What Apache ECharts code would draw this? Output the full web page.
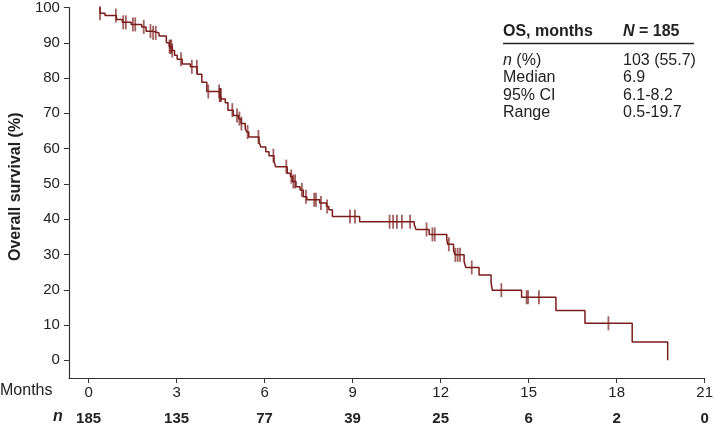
<!DOCTYPE html>
<html>
<head>
<meta charset="utf-8">
<script src="https://cdn.jsdelivr.net/npm/echarts@6/dist/echarts.min.js"></script>
<style>
html,body{margin:0;padding:0;background:#fff;}
#chart{width:716px;height:430px;}
</style>
</head>
<body>
<div id="chart"></div>
<script>
// ---- Data ----
const startTime = 0.39;
const eventTimes = [0.39, 0.56, 0.95, 1.15, 1.45, 1.81, 1.96, 2.18, 2.40, 2.65, 2.75, 2.85, 2.93, 3.02, 3.19, 3.47, 3.70, 3.86, 4.03, 4.47, 4.53, 4.66, 4.75, 4.93, 5.11, 5.20, 5.34, 5.39, 5.46, 5.81, 5.87, 6.04, 6.15, 6.32, 6.37, 6.77, 6.88, 6.95, 7.07, 7.21, 7.32, 7.44, 7.88, 8.11, 8.19, 8.31, 9.24, 11.10, 11.16, 11.61, 12.21, 12.24, 12.44, 12.49, 12.80, 12.86, 13.31, 13.72, 13.76, 14.76, 15.93, 16.92, 18.53, 19.74];
const eventSurv  = [98.4, 97.7, 96.6, 95.8, 95.2, 94.5, 93.3, 92.8, 91.9, 90.0, 88.9, 87.8, 86.5, 85.3, 84.0, 83.2, 81.1, 78.8, 76.2, 75.2, 74.1, 73.0, 70.9, 69.4, 68.5, 67.1, 65.6, 64.7, 63.3, 61.9, 60.5, 59.1, 58.0, 56.6, 54.9, 53.0, 52.1, 50.7, 49.2, 48.3, 46.4, 45.5, 44.6, 43.6, 42.7, 40.8, 39.3, 38.5, 37.1, 35.7, 34.3, 32.9, 31.2, 29.9, 28.0, 26.3, 24.2, 22.1, 19.9, 17.9, 14.1, 10.5, 5.2, 0];
const censorTimes = [0.39, 0.93, 1.18, 1.27, 1.51, 1.59, 1.88, 2.11, 2.20, 2.29, 2.76, 2.79, 2.82, 2.85, 3.15, 3.52, 3.69, 4.08, 4.45, 4.47, 4.49, 4.51, 4.90, 5.06, 5.14, 5.21, 5.42, 5.79, 6.30, 6.74, 6.91, 6.98, 7.04, 7.27, 7.41, 7.69, 7.75, 7.92, 8.13, 8.91, 9.08, 10.26, 10.38, 10.51, 10.68, 10.96, 11.52, 11.72, 11.80, 12.28, 12.50, 12.58, 12.66, 13.06, 14.07, 14.93, 14.98, 15.35, 17.72];
const xTicks = [0, 3, 6, 9, 12, 15, 18, 21];
const yTicks = [0, 10, 20, 30, 40, 50, 60, 70, 80, 90, 100];
const atRiskTimes = [0, 3, 6, 9, 12, 15, 18, 21];
const atRisk = [185, 135, 77, 39, 25, 6, 2, 0];
const tableRows = [["{i|n} (%)", "103 (55.7)"], ["Median", "6.9"], ["95% CI", "6.1-8.2"], ["Range", "0.5-19.7"]];

// ---- Build series data ----
const curve = [[startTime, 100]];
eventTimes.forEach((t, i) => curve.push([t, eventSurv[i]]));
function survAt(t) {
  let s = 100;
  for (let i = 0; i < eventTimes.length; i++) if (eventTimes[i] <= t) s = eventSurv[i];
  return s;
}
const censors = censorTimes.map(t => [t, survAt(t)]);

const FONT = '"Liberation Sans", Arial, Helvetica, sans-serif';
const RED = '#7b1c1c';

const graphics = [
  {type: 'text', left: 0, top: 383, style: {text: 'Months', font: '16px ' + FONT, fill: '#222'}},
  {type: 'text', left: 53, top: 409, style: {text: 'n', font: 'italic bold 16px ' + FONT, fill: '#222'}},
  {type: 'text', left: 503, top: 23.5, style: {text: 'OS, months', font: 'bold 16px ' + FONT, fill: '#222'}},
  {type: 'text', left: 623, top: 23.5, style: {text: '{i|N} = 185', rich: {i: {font: 'italic bold 16px ' + FONT, fill: '#222'}}, font: 'bold 16px ' + FONT, fill: '#222'}},
  {type: 'line', shape: {x1: 503, y1: 43.5, x2: 694, y2: 43.5}, style: {stroke: '#222', lineWidth: 1.5}}
];
tableRows.forEach((r, i) => {
  const y = 52.5 + i * 17.5;
  graphics.push({type: 'text', left: 503, top: y, style: {text: r[0], rich: {i: {font: 'italic 16px ' + FONT, fill: '#222'}}, font: '16px ' + FONT, fill: '#222'}});
  graphics.push({type: 'text', left: 623, top: y, style: {text: r[1], font: '16px ' + FONT, fill: '#222'}});
});

const chart = echarts.init(document.getElementById('chart'));
chart.setOption({
  animation: false,
  backgroundColor: '#fff',
  textStyle: {fontFamily: FONT},
  grid: {left: 60, right: 10, top: 4.5, bottom: 52, containLabel: false},
  xAxis: [{
    type: 'value', min: -0.67, max: 21,
    axisLine: {show: true, onZero: false, lineStyle: {color: '#333', width: 1.2}},
    axisTick: {show: true, customValues: xTicks, length: 5, lineStyle: {color: '#333'}},
    axisLabel: {customValues: xTicks, fontSize: 15, color: '#222', margin: 7, fontFamily: FONT},
    splitLine: {show: false}
  }, {
    type: 'value', min: -0.67, max: 21, position: 'bottom', offset: 26,
    axisLine: {show: false}, axisTick: {show: false},
    axisLabel: {customValues: atRiskTimes, fontSize: 15, fontWeight: 'bold', color: '#222', margin: 7, fontFamily: FONT,
      formatter: v => String(atRisk[atRiskTimes.indexOf(Math.round(v))])},
    splitLine: {show: false}
  }],
  yAxis: {
    type: 'value', min: -5, max: 100,
    name: 'Overall survival (%)', nameLocation: 'middle', nameGap: 38,
    nameTextStyle: {fontSize: 16, fontWeight: 'bold', color: '#222', fontFamily: FONT, padding: [0, 0, 0, 12]},
    axisLine: {show: true, onZero: false, lineStyle: {color: '#333', width: 1.2}},
    axisTick: {show: true, customValues: yTicks, length: 5, lineStyle: {color: '#333'}},
    axisLabel: {customValues: yTicks, fontSize: 15, color: '#222', margin: 9, fontFamily: FONT},
    splitLine: {show: false}
  },
  series: [{
    type: 'line', data: curve, step: 'end', showSymbol: false,
    lineStyle: {color: RED, width: 1.5}, xAxisIndex: 0
  }, {
    type: 'scatter', data: censors, symbol: 'rect', symbolSize: [1.8, 14],
    itemStyle: {color: RED, opacity: 0.7}, xAxisIndex: 0
  }],
  graphic: graphics
});
</script>
</body>
</html>
